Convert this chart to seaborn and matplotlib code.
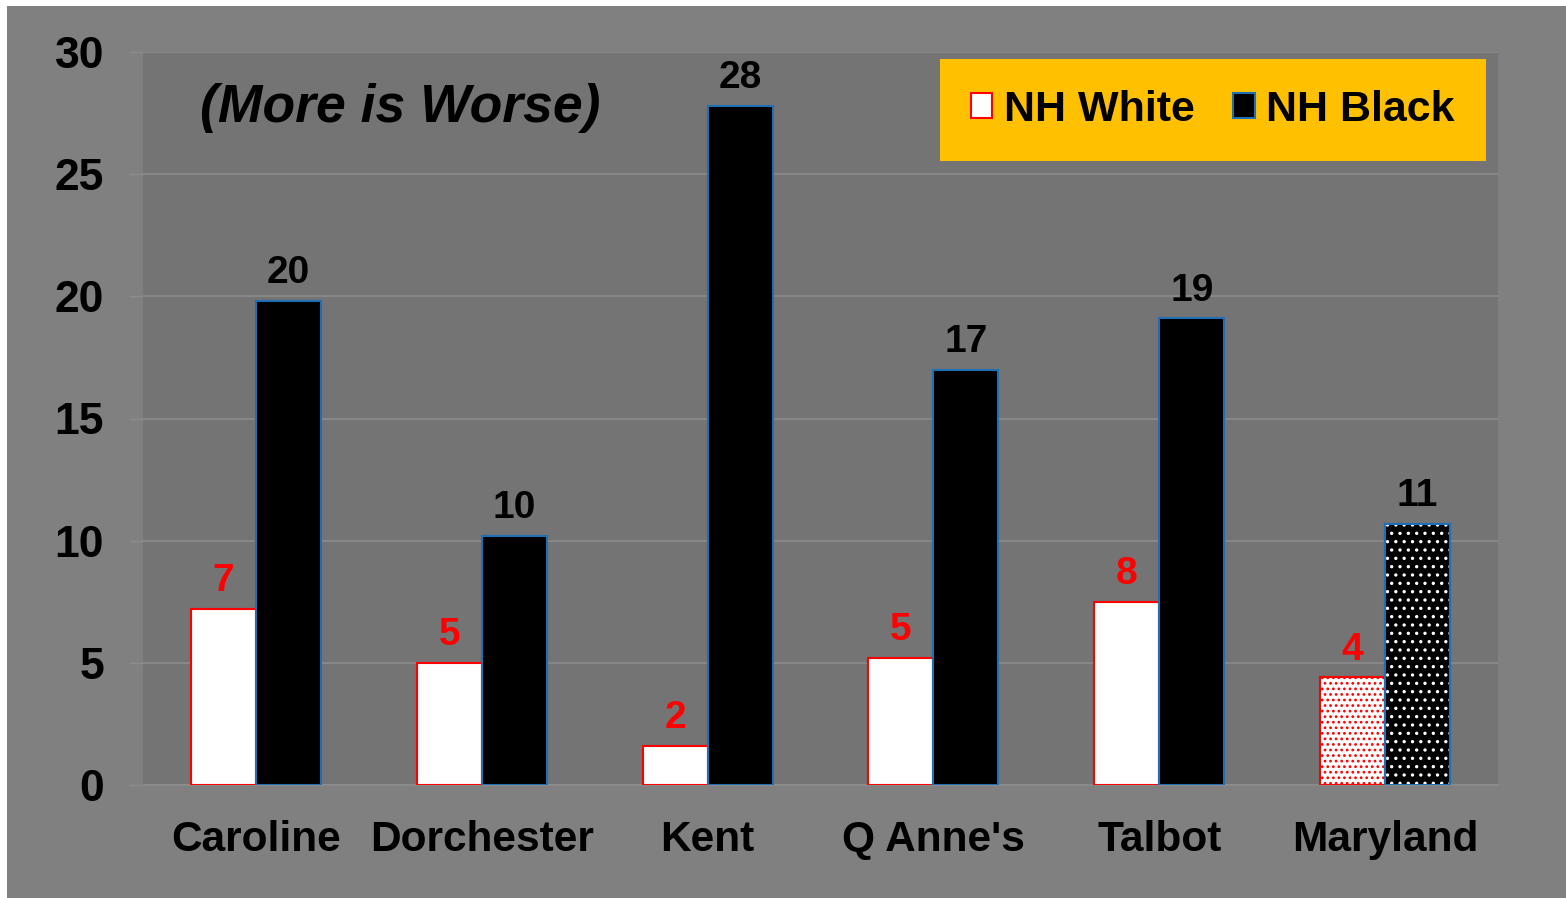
import matplotlib
matplotlib.use("Agg")
import matplotlib.pyplot as plt
from matplotlib.patches import Patch, Rectangle
import numpy as np
import pandas as pd
import seaborn as sns

# Infant mortality-style rates by county, non-Hispanic White vs Black
counties = ["Caroline", "Dorchester", "Kent", "Q Anne's", "Talbot", "Maryland"]
nh_white = [7.2, 5.0, 1.6, 5.2, 7.5, 4.4]
nh_black = [19.8, 10.2, 27.8, 17.0, 19.1, 10.7]
groups = ["NH White", "NH Black"]
y_ticks = [0, 5, 10, 15, 20, 25, 30]
note_text = "(More is Worse)"

df = pd.DataFrame({
    "County": counties * 2,
    "Group": [groups[0]] * len(counties) + [groups[1]] * len(counties),
    "Rate": nh_white + nh_black,
})

sns.set_theme(style="white")
plt.rcParams["font.family"] = ["Liberation Sans", "DejaVu Sans"]
plt.rcParams["text.color"] = "black"
plt.rcParams["hatch.linewidth"] = 1.2

OUTER = "#808080"
INNER = "#747474"
GRID = "#8c8c8c"
BLUE_EDGE = "#1f6fb4"

fig = plt.figure(figsize=(15.66, 8.98), dpi=100)
fig.patch.set_facecolor("white")
fig.patches.append(Rectangle((7 / 1566, 0), 1 - 7 / 1566, 1 - 6 / 898,
                             transform=fig.transFigure, facecolor=OUTER,
                             edgecolor="none", zorder=-10))

ax = fig.add_axes([143 / 1566, 113 / 898, 1355 / 1566, 733 / 898])
ax.set_facecolor(INNER)

sns.barplot(data=df, x="County", y="Rate", hue="Group", order=counties,
            hue_order=groups, palette={"NH White": "white", "NH Black": "black"},
            width=0.575, gap=0, legend=False, ax=ax, zorder=3)

white_bars, black_bars = ax.containers[0], ax.containers[1]
for p in white_bars:
    p.set_edgecolor("red")
    p.set_linewidth(1.5)
for p in black_bars:
    p.set_edgecolor(BLUE_EDGE)
    p.set_linewidth(1.5)

# State-level bars are dotted
md = counties.index("Maryland")
white_bars[md].set_hatch("...")
bp = black_bars[md]
ax.add_patch(Rectangle((bp.get_x(), bp.get_y()), bp.get_width(), bp.get_height(),
                       fill=False, edgecolor="white", hatch="..", linewidth=0,
                       zorder=4))
ax.add_patch(Rectangle((bp.get_x(), bp.get_y()), bp.get_width(), bp.get_height(),
                       fill=False, edgecolor=BLUE_EDGE, linewidth=1.5,
                       zorder=5))

# Value labels
for bars, color in ((white_bars, "red"), (black_bars, "black")):
    for p in bars:
        v = p.get_height()
        ax.annotate(f"{v:.0f}", (p.get_x() + p.get_width() / 2, v),
                    xytext=(0, 7), textcoords="offset points",
                    ha="center", va="bottom", fontsize=28, fontweight="bold",
                    color=color, zorder=6)

ax.set_ylim(0, 30)
ax.set_xlim(-0.5, len(counties) - 0.5)
ax.set_yticks(y_ticks)
ax.set_yticklabels([str(t) for t in y_ticks], fontsize=32, fontweight="bold",
                   color="black")
ax.set_xticks(range(len(counties)))
ax.set_xticklabels(counties, fontsize=30.5, fontweight="bold", color="black")
ax.set_xticks(np.arange(-0.5, len(counties)), minor=True)
ax.tick_params(axis="x", which="major", length=0, pad=25)
ax.tick_params(axis="x", which="minor", length=7, width=1, color=GRID,
               direction="out")
ax.tick_params(axis="y", length=10, width=1, color=GRID, direction="out",
               pad=18, left=True)
ax.set_xlabel("")
ax.set_ylabel("")

ax.grid(axis="y", color=GRID, linewidth=1.2)
ax.set_axisbelow(True)
for side in ("top", "right", "left"):
    ax.spines[side].set_visible(False)
ax.spines["bottom"].set_color(GRID)
ax.spines["bottom"].set_linewidth(1.2)

ax.text(0.19, 0.9235, note_text, transform=ax.transAxes, ha="center",
        va="center", fontsize=38.5, fontweight="bold", fontstyle="italic",
        color="black", zorder=6)

handles = [Patch(facecolor="white", edgecolor="red", linewidth=1.5),
           Patch(facecolor="black", edgecolor=BLUE_EDGE, linewidth=1.5)]
leg = ax.legend(handles, groups, loc="upper right",
                bbox_to_anchor=(0.9911, 0.9905), borderaxespad=0, ncol=2,
                prop={"size": 31, "weight": "bold"}, frameon=True,
                facecolor="#FFC000", edgecolor="none", framealpha=1,
                fancybox=False, handlelength=0.5, handleheight=0.5,
                handletextpad=0.27, columnspacing=0.9, borderpad=0.72,
                labelcolor="black")
leg.set_zorder(7)

fig.savefig("out.png", dpi=100, facecolor=fig.get_facecolor())
